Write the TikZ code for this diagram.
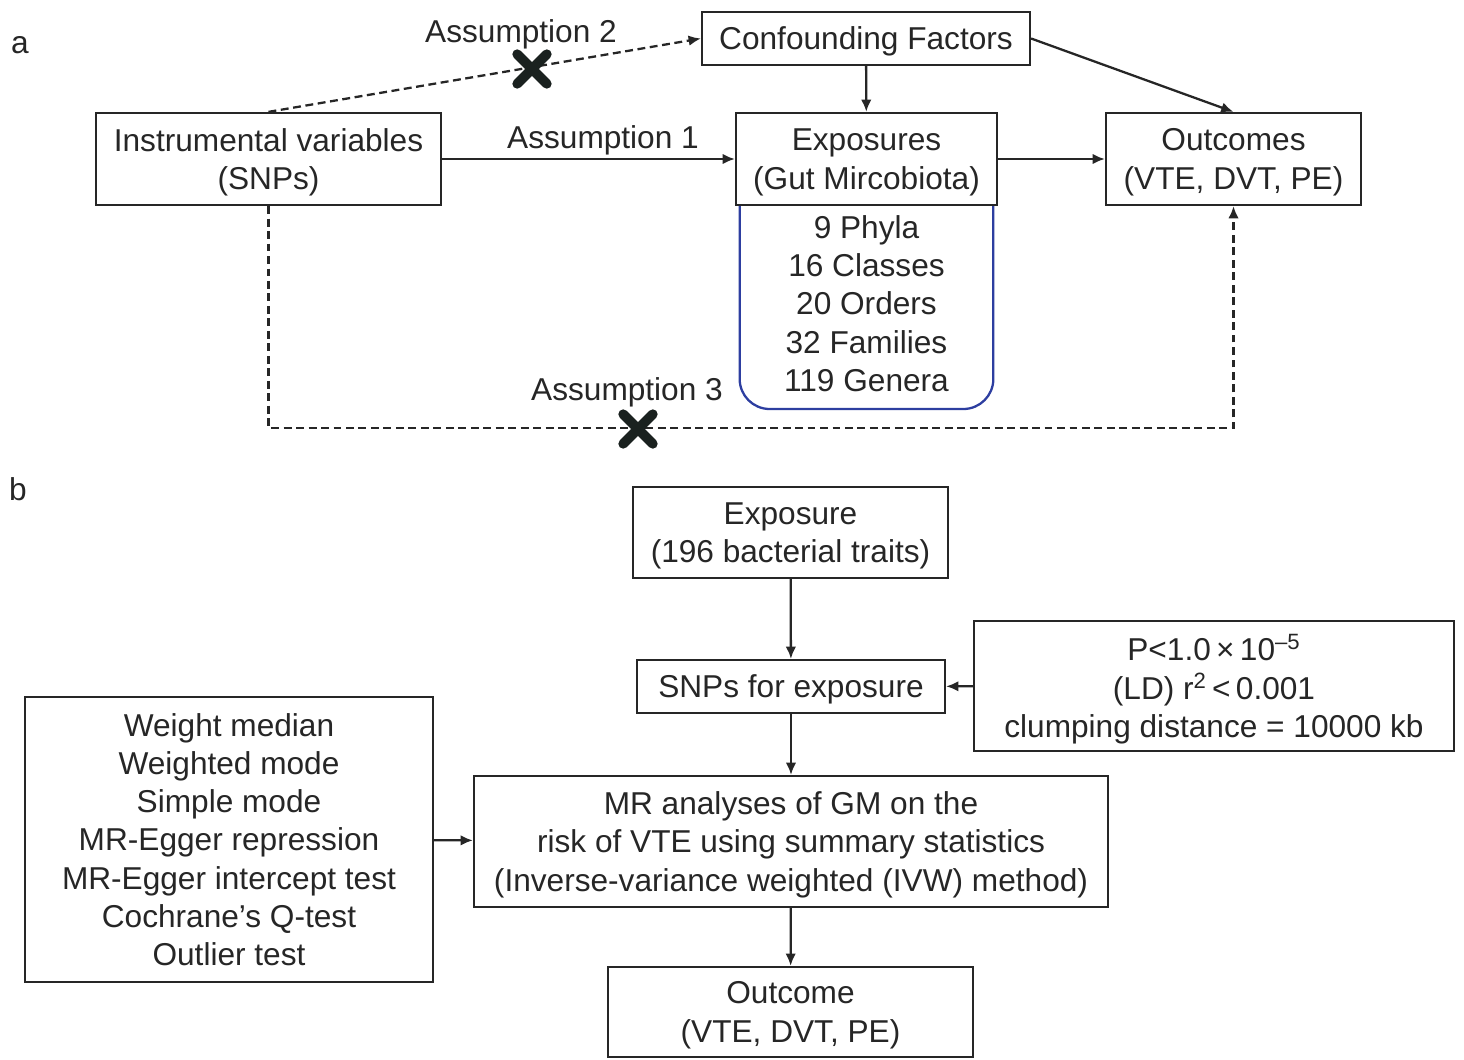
\documentclass[tikz,border=0pt]{standalone}
\usepackage{fontspec}
\setmainfont{Liberation Sans}
\usetikzlibrary{arrows.meta,shapes.misc}

\definecolor{ink}{RGB}{38,38,38}
\definecolor{taxablue}{RGB}{45,62,160}
\definecolor{crossink}{RGB}{26,33,31}

\tikzset{
  box/.style={draw=ink,line width=1.3pt,align=center,inner sep=0pt,text=ink,text depth=0pt,
    font=\fontsize{18}{21.8}\selectfont},
  lbl/.style={text=ink,inner sep=0pt,align=center,text depth=0pt,font=\fontsize{18}{21.8}\selectfont},
  link/.style={draw=ink,line width=1.3pt,->},
  dashlink/.style={draw=ink,line width=1.3pt,dash pattern=on 4.5pt off 2.6pt,->},
  nocross/.style={cross out,draw=crossink,line width=5.5pt,line cap=round,inner sep=0pt,minimum size=0.4cm},
}

\begin{document}
\begin{tikzpicture}[x=0.02cm,y=-0.02cm,>={Latex[length=7pt,width=6pt]}]
\useasboundingbox (0,0) rectangle (1464,1059);

% panel a
\node[lbl] (pa) at (20,45) {a};
\node[box,minimum width=6.56cm,minimum height=1.06cm] (conf) at (866,38.5) {Confounding Factors};
\node[box,minimum width=6.9cm,minimum height=1.84cm] (iv) at (268.5,159) {Instrumental variables\\(SNPs)};
\node[box,minimum width=5.22cm,minimum height=1.84cm] (expo) at (866.5,159) {Exposures\\(Gut Mircobiota)};
\node[box,minimum width=5.1cm,minimum height=1.84cm] (outc) at (1233.5,159) {Outcomes\\(VTE, DVT, PE)};
\node[lbl,minimum width=5.06cm] (taxa) at (866.5,303.5)
  {9 Phyla\\16 Classes\\20 Orders\\32 Families\\119 Genera};
\draw[taxablue,line width=1.3pt] (expo.south -| taxa.west) {[rounded corners=0.6cm] -- (taxa.west |- 0,409) -- (taxa.east |- 0,409)} -- (expo.south -| taxa.east);

\node[lbl] (as1) at (603,137) {Assumption 1};
\node[lbl] (as2) at (521,31) {Assumption 2};
\node[lbl] (as3) at (627,389) {Assumption 3};
\coordinate (a3) at (638,428);

\draw[link] (iv) -- (expo);
\draw[link] (expo) -- (outc);
\draw[link] (conf) -- (expo);
\draw[link] (conf.east) -- (outc.north);
\draw[dashlink] (iv.north) -- (conf.west);
\draw[dashlink] (iv.south) |- (a3) -| (outc.south);
\node[nocross] (x2) at (532,69) {};
\node[nocross] (x3) at (638,429) {};

% panel b
\node[lbl] (pb) at (18,489) {b};
\node[box,minimum width=6.3cm,minimum height=1.82cm] (expb) at (790.5,532.5) {Exposure\\(196 bacterial traits)};
\node[box,minimum width=6.16cm,minimum height=1.06cm] (snps) at (791,686.5) {SNPs for exposure};
\node[box,minimum width=9.6cm,minimum height=2.6cm] (crit) at (1214,686)
  {P<1.0\,×\,10\textsuperscript{–5}\\(LD) r\textsuperscript{2}\,<\,0.001\\clumping distance = 10000 kb};
\node[box,minimum width=12.68cm,minimum height=2.62cm] (mr) at (791,841.5)
  {MR analyses of GM on the\\risk of VTE using summary statistics\\(Inverse-variance weighted (IVW) method)};
\node[box,minimum width=8.16cm,minimum height=5.7cm] (sens) at (229,839.5)
  {Weight median\\Weighted mode\\Simple mode\\MR-Egger repression\\MR-Egger intercept test\\Cochrane’s Q-test\\Outlier test};
\node[box,minimum width=7.3cm,minimum height=1.8cm] (outb) at (790.5,1012) {Outcome\\(VTE, DVT, PE)};

\draw[link] (expb) -- (snps);
\draw[link] (crit) -- (snps);
\draw[link] (snps) -- (mr);
\draw[link] (sens) -- (mr);
\draw[link] (mr) -- (outb);
\end{tikzpicture}
\end{document}
